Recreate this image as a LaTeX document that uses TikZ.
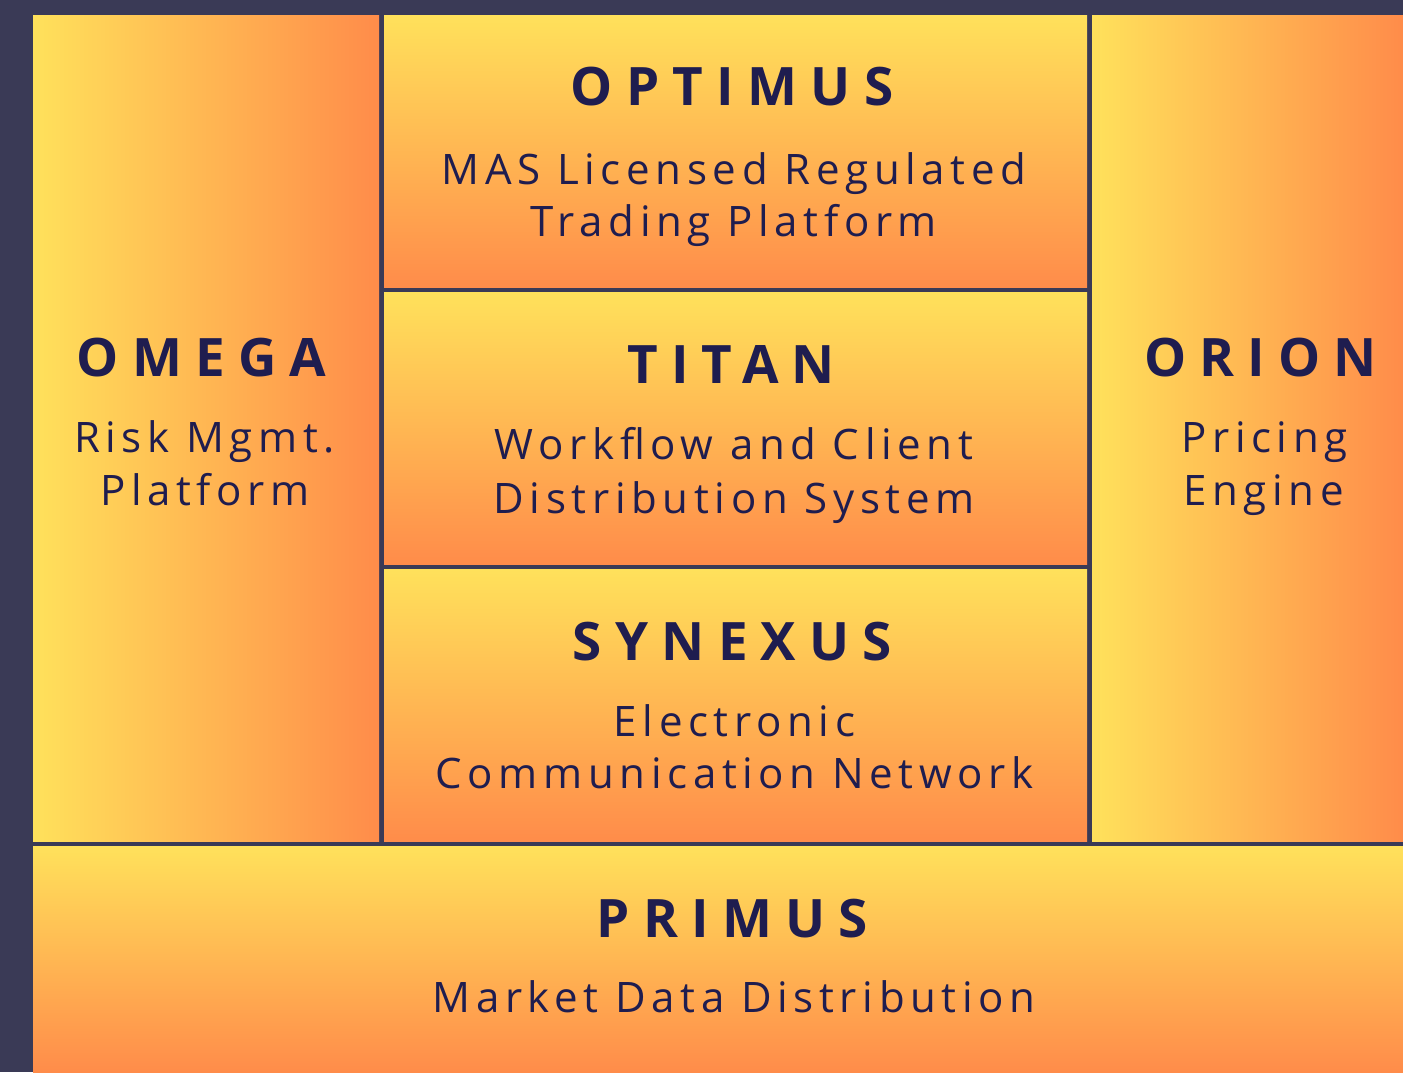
\documentclass[tikz,border=0pt]{standalone}
\usepackage{fontspec}
\setmainfont{Open Sans}
\newfontfamily\ttlfont[LetterSpace=25]{Open Sans}
\newfontfamily\subfont[LetterSpace=13.5]{Open Sans}
\definecolor{bgdark}{HTML}{3A3A56}
\definecolor{gyel}{HTML}{FFE15B}
\definecolor{gora}{HTML}{FF8C4A}
\definecolor{ink}{HTML}{1F1D4F}
\begin{document}
\begin{tikzpicture}[x=1pt,y=-1pt,
  hpanel/.style={left color=gyel,right color=gora,draw=none},
  vpanel/.style={top color=gyel,bottom color=gora,draw=none},
  ttl/.style={anchor=base,inner sep=0pt,text=ink,font=\ttlfont\bfseries\fontsize{53}{60}\selectfont},
  sub/.style={anchor=base,inner sep=0pt,text=ink,font=\subfont\fontsize{42}{52}\selectfont}]
\useasboundingbox (0,0) rectangle (1403,1072);
\fill[bgdark] (0,0) rectangle (1403,1072);
% panels
\shade[hpanel] (33,15) rectangle (379,841);
\shade[vpanel] (384,15) rectangle (1087,287);
\shade[vpanel] (384,292) rectangle (1087,564);
\shade[vpanel] (384,569) rectangle (1087,841);
\shade[hpanel] (1092,15) rectangle (1403,841);
\shade[vpanel] (33,846) rectangle (1403,1072);
% OPTIMUS
\node[ttl] (optT) at (732,105) {OPTIMUS};
\node[sub] (optS1) at (734,184) {MAS Licensed Regulated};
\node[sub] (optS2) at (734,236) {Trading Platform};
% TITAN
\node[ttl] (titT) at (731,383) {TITAN};
\node[sub] (titS1) at (734,459) {Workflow and Client};
\node[sub] (titS2) at (734,513) {Distribution System};
% SYNEXUS
\node[ttl] (synT) at (732.5,660) {SYNEXUS};
\node[sub] (synS1) at (734.5,736) {Electronic};
\node[sub] (synS2) at (734.5,788) {Communication Network};
% OMEGA
\node[ttl] (omeT) at (201.5,376) {OMEGA};
\node[sub] (omeS1) at (204.5,452) {Risk Mgmt.};
\node[sub] (omeS2) at (205,505) {Platform};
% ORION
\node[ttl] (oriT) at (1260.5,376) {ORION};
\node[sub] (oriS1) at (1264.5,452) {Pricing};
\node[sub] (oriS2) at (1263.5,505) {Engine};
% PRIMUS
\node[ttl] (priT) at (732.5,937) {PRIMUS};
\node[sub] (priS) at (734,1012) {Market Data Distribution};
\end{tikzpicture}
\end{document}
